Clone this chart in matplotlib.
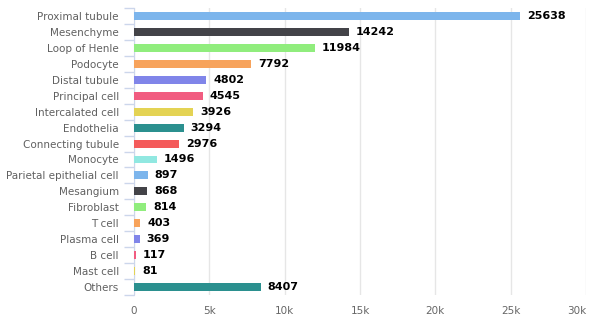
import numpy as np
import matplotlib.pyplot as plt
from matplotlib.ticker import FuncFormatter, FixedLocator

cell_types = ["Proximal tubule", "Mesenchyme", "Loop of Henle", "Podocyte",
              "Distal tubule", "Principal cell", "Intercalated cell", "Endothelia",
              "Connecting tubule", "Monocyte", "Parietal epithelial cell", "Mesangium",
              "Fibroblast", "T cell", "Plasma cell", "B cell", "Mast cell", "Others"]
counts = [25638, 14242, 11984, 7792, 4802, 4545, 3926, 3294, 2976, 1496,
          897, 868, 814, 403, 369, 117, 81, 8407]
palette = ["#7cb5ec", "#434348", "#90ed7d", "#f7a35c", "#8085e9",
           "#f15c80", "#e4d354", "#2b908f", "#f45b5b", "#91e8e1"]

fig = plt.figure(figsize=(5.92, 3.33), dpi=100)
ax = fig.add_axes([0.2264, 0.114, 0.7635, 0.862])

y = np.arange(len(cell_types))
colors = [palette[i % len(palette)] for i in range(len(cell_types))]
ax.barh(y, counts, height=0.5, color=colors, zorder=3)

# value labels
for yi, v in zip(y, counts):
    ax.annotate(str(v), (v, yi), xytext=(5, 0), textcoords="offset points",
                va="center", ha="left", fontsize=8, fontweight="bold", color="black")

ax.set_xlim(0, 30000)
ax.set_ylim(len(cell_types) - 0.5, -0.5)
ax.set_xticks(np.arange(0, 30001, 5000))
ax.xaxis.set_major_formatter(FuncFormatter(lambda v, p: "0" if v == 0 else f"{int(v/1000)}k"))
ax.grid(axis="x", color="#e6e6e6", linewidth=1, zorder=0)

ax.set_yticks(y)
ax.set_yticklabels(cell_types)
ax.yaxis.set_minor_locator(FixedLocator(np.arange(-0.5, len(cell_types), 1)))
ax.tick_params(axis="y", which="major", length=0, pad=11, labelsize=7.5, labelcolor="#606060")
ax.tick_params(axis="y", which="minor", length=7, color="#ccd6eb", width=1)
ax.tick_params(axis="x", length=0, pad=8, labelsize=7.5, labelcolor="#666666")

# keep the last x label inside the figure
fig.canvas.draw()
ax.get_xticklabels()[-1].set_horizontalalignment("right")

for s in ["top", "right", "bottom"]:
    ax.spines[s].set_visible(False)
ax.spines["left"].set_color("#ccd6eb")

fig.savefig("out.png", dpi=100)
